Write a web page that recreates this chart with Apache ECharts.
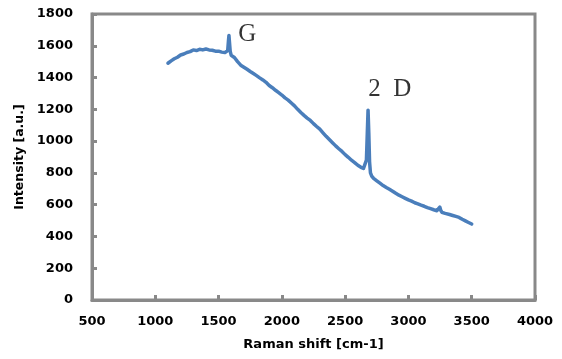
<!DOCTYPE html>
<html>
<head>
<meta charset="utf-8">
<script src="https://cdn.jsdelivr.net/npm/echarts@6/dist/echarts.min.js"></script>
<style>
html,body{margin:0;padding:0;background:#fff;}
#chart{width:562px;height:359px;}
</style>
</head>
<body>
<div id="chart"></div>
<script>
var ramanShift = [1100,1125,1150,1175,1200,1225,1250,1275,1300,1325,1350,1375,1400,1425,1450,1475,1500,1525,1550,1565,1572,1578,1582,1586,1592,1600,1625,1650,1675,1700,1725,1750,1775,1800,1825,1850,1875,1900,1925,1950,1975,2000,2025,2050,2075,2100,2125,2150,2175,2200,2225,2250,2275,2300,2325,2350,2375,2400,2425,2450,2475,2500,2525,2550,2575,2600,2625,2645,2660,2668,2675,2681,2687,2693,2700,2710,2725,2750,2775,2800,2825,2850,2875,2900,2925,2950,2975,3000,3025,3050,3075,3100,3125,3150,3175,3200,3225,3240,3248,3255,3265,3290,3325,3350,3375,3400,3425,3450,3475,3500];
var intensity = [1490,1505,1518,1528,1542,1548,1558,1563,1574,1570,1578,1574,1580,1574,1572,1566,1566,1560,1557,1552,1570,1630,1665,1625,1565,1540,1526,1500,1478,1465,1452,1438,1425,1412,1398,1385,1370,1350,1336,1320,1305,1290,1272,1258,1240,1222,1200,1180,1162,1145,1130,1110,1092,1075,1052,1030,1010,990,970,952,935,915,898,880,865,848,835,828,835,880,1050,1195,1050,870,800,780,765,750,735,720,708,697,685,672,660,650,640,630,622,612,605,597,590,582,575,568,562,558,585,565,552,545,538,532,526,520,508,498,488,478];
var xTicks = [500,1000,1500,2000,2500,3000,3500,4000];
var yTicks = [0,200,400,600,800,1000,1200,1400,1600,1800];
var peakLabels = ['G','2\u2002D'];
var peakLabelX = [1727,2852];
var peakLabelY = [1670,1328];

var lineData = ramanShift.map(function(x,i){return [x,intensity[i]];});
var labelData = peakLabels.map(function(n,i){return {name:n,value:[peakLabelX[i],peakLabelY[i]]};});

var axisColor = '#898989';
function plain(v){return String(v);}
var labelFont = {color:'#000',fontFamily:'DejaVu Sans',fontWeight:'bold',fontSize:13,formatter:plain};

var chart = echarts.init(document.getElementById('chart'),null,{renderer:'canvas'});
chart.setOption({
  animation:false,
  backgroundColor:'#fff',
  grid:{left:92,right:27,top:14,bottom:59,show:true,borderColor:axisColor,borderWidth:3,backgroundColor:'transparent'},
  xAxis:{
    type:'value',min:xTicks[0],max:xTicks[xTicks.length-1],interval:500,
    name:'Raman shift [cm-1]',nameLocation:'middle',nameGap:38,
    nameTextStyle:{color:'#000',fontFamily:'DejaVu Sans',fontWeight:'bold',fontSize:13},
    axisLine:{show:true,lineStyle:{color:axisColor,width:3}},
    axisTick:{show:true,inside:true,length:5,lineStyle:{color:axisColor,width:3}},
    axisLabel:Object.assign({margin:15},labelFont),
    splitLine:{show:false}
  },
  yAxis:{
    type:'value',min:yTicks[0],max:yTicks[yTicks.length-1],interval:200,
    name:'Intensity [a.u.]',nameLocation:'middle',nameGap:62,nameRotate:90,
    nameTextStyle:{color:'#000',fontFamily:'DejaVu Sans',fontWeight:'bold',fontSize:12.5},
    axisLine:{show:true,lineStyle:{color:axisColor,width:3}},
    axisTick:{show:true,inside:true,length:5,lineStyle:{color:axisColor,width:3}},
    axisLabel:Object.assign({margin:19},labelFont),
    splitLine:{show:false}
  },
  series:[
    {type:'line',data:lineData,showSymbol:false,symbol:'none',
     lineStyle:{color:'#4a7ebb',width:3.5,join:'round',cap:'round'},z:3},
    {type:'scatter',data:labelData,symbolSize:0,silent:true,
     label:{show:true,position:'inside',formatter:function(p){return p.name;},
       color:'#000',fontFamily:'Liberation Serif',fontSize:25}}
  ]
});
</script>
</body>
</html>
